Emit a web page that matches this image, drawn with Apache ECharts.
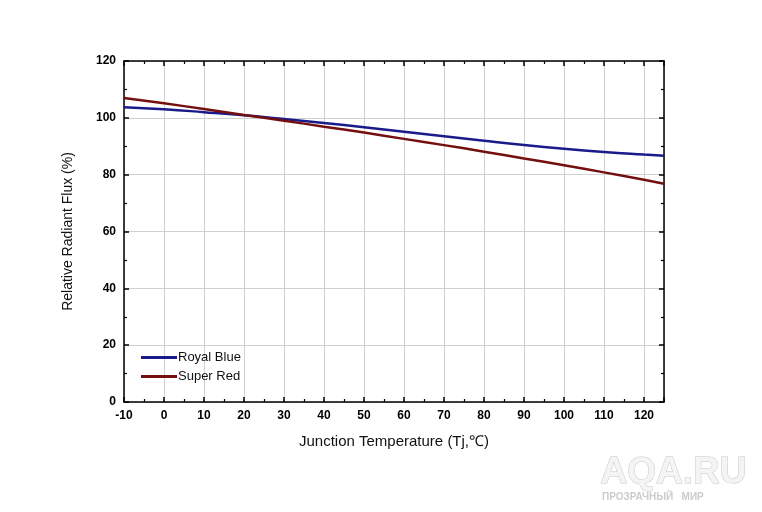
<!DOCTYPE html>
<html><head><meta charset="utf-8">
<script src="https://cdn.jsdelivr.net/npm/echarts@6/dist/echarts.min.js"></script>
<style>html,body{margin:0;padding:0;background:#fff}#c{width:762px;height:512px}</style>
</head><body><div id="c"></div>
<script>
const temps = [-10, 0, 10, 20, 30, 40, 50, 60, 70, 80, 90, 100, 110, 120, 125];
const royalBlue = [103.7, 103.0, 102.0, 100.9, 99.6, 98.2, 96.7, 95.1, 93.5, 91.9, 90.4, 89.1, 88.0, 87.1, 86.7];
const superRed = [107.0, 105.1, 103.1, 101.0, 99.0, 96.9, 94.8, 92.6, 90.4, 88.1, 85.7, 83.3, 80.8, 78.2, 76.8];
const seriesNames = ['Royal Blue', 'Super Red'];
const xTitle = 'Junction Temperature (Tj,\u2103)';
const yTitle = 'Relative Radiant Flux (%)';

const chart = echarts.init(document.getElementById('c'));
const font = 'Liberation Sans, Arial, sans-serif';
const axisLine = {show: true, onZero: false, lineStyle: {color: '#000', width: 1.5}};
const tick = {show: true, inside: true, length: 5, lineStyle: {color: '#000', width: 1.5}};
const minor = {show: true, splitNumber: 2, length: 3, lineStyle: {color: '#000', width: 1.2}};
chart.setOption({
  animation: false,
  backgroundColor: '#fff',
  grid: {left: 124, right: 98, top: 61, bottom: 110},
  legend: {
    left: 136, top: 346, orient: 'vertical', itemWidth: 36, itemHeight: 3, itemGap: 6,
    icon: 'rect',
    textStyle: {fontFamily: font, fontSize: 13, color: '#111', padding: [0,0,0,-4]},
    data: seriesNames
  },
  xAxis: [{
    type: 'value', min: -10, max: 125, interval: 10,
    axisLine: axisLine, axisTick: tick, minorTick: minor,
    axisLabel: {fontFamily: font, fontSize: 12, fontWeight: 'bold', color: '#000', margin: 8, showMaxLabel: false},
    splitLine: {show: true, lineStyle: {color: '#d0d0d0', width: 1}},
    name: xTitle, nameLocation: 'middle', nameGap: 32,
    nameTextStyle: {fontFamily: font, fontSize: 15, color: '#111'}
  }, {
    type: 'value', position: 'top', min: -10, max: 125, interval: 10,
    axisLine: axisLine, axisTick: tick, minorTick: minor,
    axisLabel: {show: false}, splitLine: {show: false}
  }],
  yAxis: [{
    type: 'value', min: 0, max: 120, interval: 20,
    axisLine: axisLine, axisTick: tick, minorTick: minor,
    axisLabel: {fontFamily: font, fontSize: 12, fontWeight: 'bold', color: '#000', margin: 8},
    splitLine: {show: true, lineStyle: {color: '#d0d0d0', width: 1}},
    name: yTitle, nameLocation: 'middle', nameGap: 49,
    nameTextStyle: {fontFamily: font, fontSize: 14, color: '#111'}
  }, {
    type: 'value', position: 'right', min: 0, max: 120, interval: 20,
    axisLine: axisLine, axisTick: tick, minorTick: minor,
    axisLabel: {show: false}, splitLine: {show: false}
  }],
  series: [{
    name: seriesNames[0], type: 'line', smooth: true, showSymbol: false, symbol: 'none',
    color: '#1a1a8a', lineStyle: {width: 2.5, color: '#1a1a8a'},
    data: temps.map((t, i) => [t, royalBlue[i]])
  }, {
    name: seriesNames[1], type: 'line', smooth: true, showSymbol: false, symbol: 'none',
    color: '#750f0f', lineStyle: {width: 2.5, color: '#750f0f'},
    data: temps.map((t, i) => [t, superRed[i]])
  }],
  graphic: [{
    type: 'text', left: 600, top: 454,
    style: {text: 'AQA.RU', font: 'bold 37px Liberation Sans, Arial, sans-serif', fill: '#f4f4f4', stroke: '#c8c8c8', lineWidth: 1}
  }, {
    type: 'text', left: 602, top: 492,
    style: {text: 'ПРОЗРАЧНЫЙ   МИР', font: 'bold 10px Liberation Sans, Arial, sans-serif', fill: '#cccccc', letterSpacing: 4}
  }]
});
</script></body></html>
